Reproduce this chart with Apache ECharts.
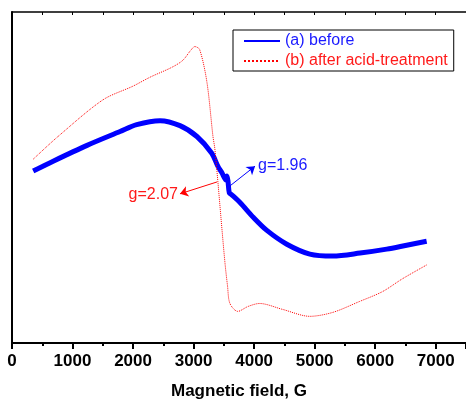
<!DOCTYPE html>
<html>
<head>
<meta charset="utf-8">
<script src="https://cdn.jsdelivr.net/npm/echarts@6/dist/echarts.min.js"></script>
<style>
html, body { margin: 0; padding: 0; background: #fff; }
#box { width: 466px; height: 405px; }
</style>
</head>
<body>
<div id="box"></div>
<script>
// field (G) and signal (arbitrary units)
var beforeField = [350, 680, 1240, 1785, 2060, 2445, 2775, 3055, 3300, 3400, 3470, 3535, 3552, 3568, 3590, 3630, 3770, 3990, 4210, 4540, 4920, 5300, 5750, 6190, 6520, 6850]
var beforeValue = [174, 184, 200, 214, 221, 225, 220, 209, 192, 179, 172, 165, 169, 164, 152, 150, 142, 127, 114, 100, 90, 88, 91, 95, 99, 103]

var afterField = [350, 760, 1500, 2000, 2280, 2640, 2820, 2950, 3020, 3100, 3220, 3320, 3350, 3400, 3470, 3520, 3560, 3600, 3730, 3900, 4090, 4470, 4920, 5300, 5740, 6120, 6450, 6850]
var afterValue = [186, 209, 246, 260, 269, 279, 286, 296, 300, 297, 264, 209, 197, 164, 114, 80, 58, 40, 32, 37, 40, 34, 27, 31, 42, 52, 65, 79]

var xTicks = [0, 1000, 2000, 3000, 4000, 5000, 6000, 7000]
var seriesNames = ['(a) before', '(b) after acid-treatment']

function pairs(xs, ys) {
    return xs.map(function (x, i) { return [x, ys[i]] })
}

var font = 'Arial, "Liberation Sans", sans-serif'
var chart = echarts.init(document.getElementById('box'))

chart.setOption({
    animation: false,
    grid: { left: 12, top: 12, right: 0, bottom: 58 },
    legend: {
        orient: 'vertical',
        left: 233,
        top: 30,
        padding: [3, 6, 2, 10],
        itemGap: 4,
        itemWidth: 36,
        itemHeight: 14,
        borderColor: '#000',
        borderWidth: 1,
        borderRadius: 0,
        itemStyle: { opacity: 0 },
        textStyle: { fontFamily: font, fontSize: 16 },
        data: [
            { name: seriesNames[0], textStyle: { color: '#1a1aff' } },
            { name: seriesNames[1], textStyle: { color: '#ff1a1a' } }
        ]
    },
    xAxis: [{
        type: 'value',
        min: 0,
        max: 7500,
        interval: 1000,
        position: 'bottom',
        name: 'Magnetic field, G',
        nameLocation: 'middle',
        nameGap: 40,
        nameTextStyle: { fontFamily: font, fontSize: 17, fontWeight: 'bold', color: '#000' },
        axisLine: { lineStyle: { color: '#000', width: 2 } },
        axisTick: { show: true, length: 6, lineStyle: { color: '#000', width: 2 } },
        minorTick: { show: true, splitNumber: 2, length: 3, lineStyle: { color: '#000', width: 2 } },
        axisLabel: {
            showMaxLabel: false,
            margin: 10,
            fontFamily: font, fontSize: 17, fontWeight: 'bold', color: '#000',
            formatter: function (v) { return xTicks.indexOf(v) >= 0 ? String(v) : '' }
        },
        splitLine: { show: false }
    }, {
        type: 'value',
        min: 0,
        max: 7500,
        interval: 500,
        position: 'top',
        axisLine: { lineStyle: { color: '#000', width: 1.5 } },
        axisTick: { show: true, inside: true, length: 3, lineStyle: { color: '#000', width: 1 } },
        axisLabel: { show: false },
        splitLine: { show: false }
    }],
    yAxis: {
        type: 'value',
        min: 0,
        max: 335,
        axisLine: { show: true, lineStyle: { color: '#000', width: 2 } },
        axisTick: { show: false },
        axisLabel: { show: false },
        splitLine: { show: false }
    },
    series: [{
        name: seriesNames[0],
        type: 'line',
        showSymbol: false,
        symbol: 'none',
        smooth: 0.3,
        color: '#0000ff',
        lineStyle: { color: '#0000ff', width: 5 },
        data: pairs(beforeField, beforeValue),
        markLine: {
            silent: true,
            symbol: ['none', 'arrow'],
            symbolSize: 8,
            lineStyle: { color: '#0000ff', width: 1, type: 'solid' },
            label: { show: false },
            data: [[{ coord: [3601, 159] }, { coord: [4015, 179] }]]
        },
        markPoint: {
            silent: true,
            symbol: 'circle',
            symbolSize: 0,
            data: [{
                coord: [4064, 180],
                label: {
                    show: true, position: 'right', distance: 0,
                    formatter: 'g=1.96', color: '#1a1aff',
                    fontFamily: font, fontSize: 16
                }
            }]
        }
    }, {
        name: seriesNames[1],
        type: 'line',
        showSymbol: false,
        symbol: 'none',
        smooth: 0.3,
        color: '#ff0000',
        lineStyle: { color: '#ff0000', width: 1, type: 'dotted' },
        data: pairs(afterField, afterValue),
        markLine: {
            silent: true,
            symbol: ['none', 'arrow'],
            symbolSize: 8,
            lineStyle: { color: '#ff0000', width: 1, type: 'solid' },
            label: { show: false },
            data: [[{ coord: [3387, 163] }, { coord: [2775, 151] }]]
        },
        markPoint: {
            silent: true,
            symbol: 'circle',
            symbolSize: 0,
            data: [{
                coord: [2742, 150],
                label: {
                    show: true, position: 'left', distance: 0,
                    formatter: 'g=2.07', color: '#ff1a1a',
                    fontFamily: font, fontSize: 16
                }
            }]
        }
    }]
})
</script>
</body>
</html>
